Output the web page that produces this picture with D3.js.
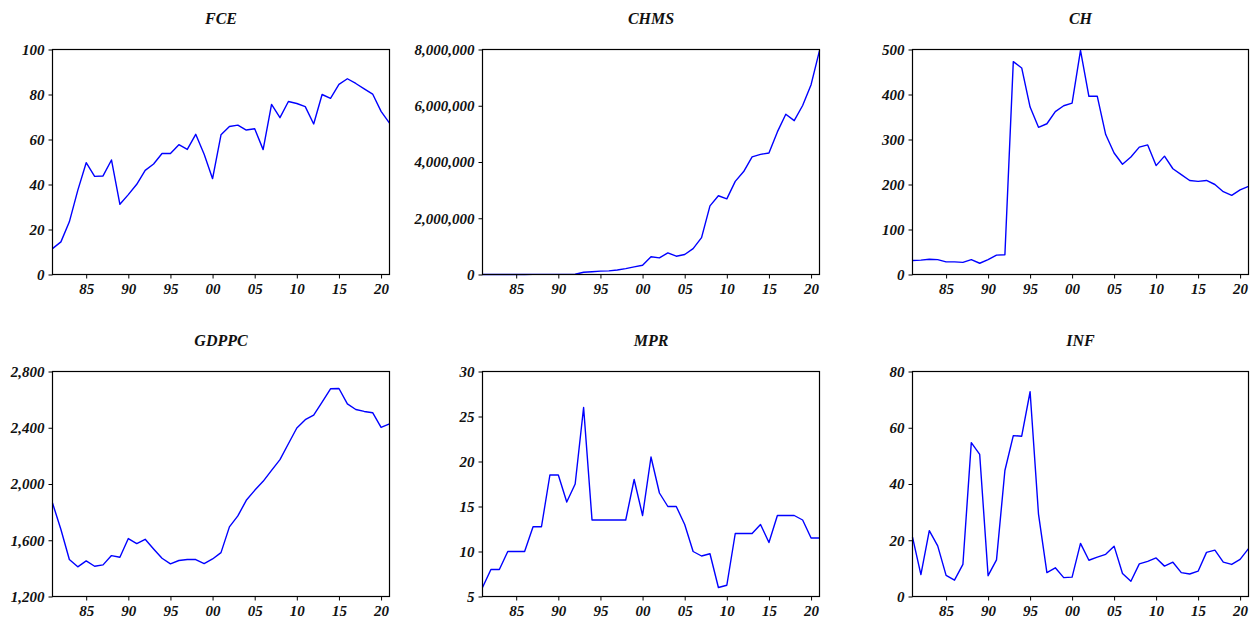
<!DOCTYPE html>
<html>
<head>
<meta charset="utf-8">
<script src="https://cdn.jsdelivr.net/npm/d3@7"></script>
<style>
  html, body { margin: 0; padding: 0; background: #fff; }
  svg { display: block; }
  .tick text { font-family: "Liberation Serif", "Times New Roman", serif; font-weight: bold; font-style: italic; font-size: 15px; fill: #111; }
  .title { font-family: "Liberation Serif", "Times New Roman", serif; font-weight: bold; font-style: italic; font-size: 16px; fill: #111; }
</style>
</head>
<body>
<script>
// ---- data ----
const years = d3.range(1981, 2022);
const fce = [11.5,14.5,23.4,37.4,49.7,43.6,43.8,50.9,31.2,35.5,40.1,46.3,49.1,53.8,53.8,57.7,55.6,62.3,53.4,42.6,62.1,65.8,66.4,64.2,64.8,55.5,75.6,69.7,76.9,76.0,74.6,66.9,80.0,78.3,84.5,87.0,84.9,82.5,80.2,72.5,67.3];
const chms = [1000,1200,1500,1800,2200,2600,3000,3500,4200,5000,6000,9000,80000,100000,120000,130000,160000,210000,270000,330000,630000,590000,770000,650000,710000,920000,1310000,2440000,2800000,2690000,3310000,3660000,4180000,4270000,4320000,5070000,5700000,5470000,6010000,6750000,7960000];
const ch = [31,32,34,33,28,28,27,33,25,33,43,44,473,459,372,327,335,362,375,381,498,396,396,311,270,245,261,283,288,242,263,235,222,209,207,209,200,184,176,188,196];
const gdppc = [1865,1676,1463,1411,1453,1415,1425,1491,1479,1612,1576,1607,1538,1472,1432,1456,1463,1463,1434,1467,1512,1695,1773,1884,1955,2019,2097,2173,2286,2398,2457,2490,2582,2677,2679,2570,2530,2516,2507,2402,2428];
const mpr = [6,8,8,10,10,10,12.75,12.75,18.5,18.5,15.5,17.5,26,13.5,13.5,13.5,13.5,13.5,18,14,20.5,16.5,15,15,13,10,9.5,9.75,6,6.25,12,12,12,13,11,14,14,14,13.5,11.5,11.5];
const inf = [21.1,7.8,23.4,18.0,7.5,5.8,11.4,54.7,50.5,7.4,13.0,44.8,57.2,57.0,72.8,29.3,8.5,10.2,6.7,6.9,18.9,12.9,14.0,15.0,17.9,8.2,5.4,11.6,12.5,13.7,10.8,12.2,8.5,8.0,9.0,15.7,16.5,12.2,11.4,13.2,17.0];

const xTickYears = [1985,1990,1995,2000,2005,2010,2015,2020];
const xTickLabels = ["85","90","95","00","05","10","15","20"];

const titles = ["FCE","CHMS","CH","GDPPC","MPR","INF"];
const seriesList = [fce, chms, ch, gdppc, mpr, inf];
const yDomains = [[0,100],[0,8000000],[0,500],[1200,2800],[5,30],[0,80]];
const yTicks = [
  [0,20,40,60,80,100],
  [0,2000000,4000000,6000000,8000000],
  [0,100,200,300,400,500],
  [1200,1600,2000,2400,2800],
  [5,10,15,20,25,30],
  [0,20,40,60,80]
];

// ---- layout ----
const W = 1254, H = 618;
const colX = [[52.5,389.5],[482.5,819.5],[912.5,1248.5]];
const rowY = [[49.5,274.5],[371.5,596.5]];

const svg = d3.select("body").append("svg").attr("width", W).attr("height", H);
const fmt = d3.format(",");

seriesList.forEach((vals, i) => {
  const c = i % 3, r = Math.floor(i / 3);
  const [x0, x1] = colX[c], [y0, y1] = rowY[r];
  const x = d3.scaleLinear().domain([1981, 2021]).range([x0, x1]);
  const y = d3.scaleLinear().domain(yDomains[i]).range([y1, y0]);
  const g = svg.append("g");

  // line
  const line = d3.line().x((d, k) => x(years[k])).y(d => y(d));
  g.append("path").datum(vals)
    .attr("d", line)
    .attr("fill", "none")
    .attr("stroke", "#0000ff")
    .attr("stroke-width", 1.4)
    .attr("stroke-linejoin", "round");

  // frame
  g.append("rect").attr("x", x0).attr("y", y0).attr("width", x1 - x0).attr("height", y1 - y0)
    .attr("fill", "none").attr("stroke", "#000").attr("stroke-width", 1.2);

  // y axis
  const ya = d3.axisLeft(y).tickValues(yTicks[i]).tickFormat(fmt).tickSize(4).tickPadding(4);
  const yg = g.append("g").attr("transform", `translate(${x0},0)`).call(ya);
  yg.select(".domain").remove();
  yg.selectAll(".tick line").attr("stroke", "#000");

  // x axis
  const xa = d3.axisBottom(x).tickValues(xTickYears).tickFormat((d, k) => xTickLabels[k]).tickSize(4).tickPadding(5);
  const xg = g.append("g").attr("transform", `translate(0,${y1})`).call(xa);
  xg.select(".domain").remove();
  xg.selectAll(".tick line").attr("stroke", "#000");

  // title
  g.append("text").attr("class", "title")
    .attr("x", (x0 + x1) / 2).attr("y", y0 - 25.5)
    .attr("text-anchor", "middle")
    .text(titles[i]);
});
</script>
</body>
</html>
